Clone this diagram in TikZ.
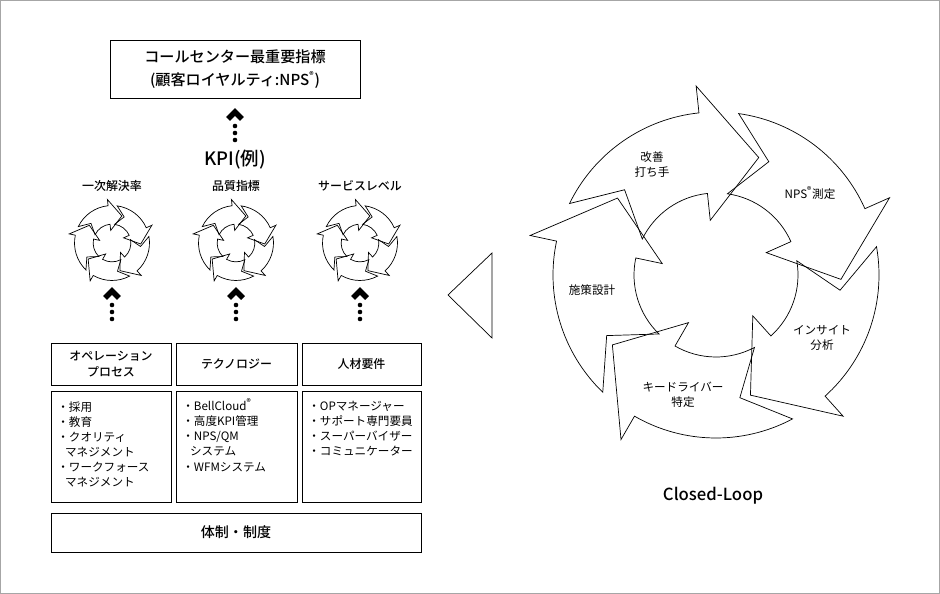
\documentclass[tikz,border=0pt]{standalone}
\usepackage{fontspec}
\newfontfamily\jp{Noto Sans CJK JP}
\newfontfamily\jpb{Noto Sans CJK JP Medium}
\usetikzlibrary{positioning}

% ring of five curved arrows, clockwise
\newcommand{\loopring}[3]{%
	\begin{scope}[shift={(#1,#2)},scale=#3,yscale=-1]
		\foreach \k in {0,...,4}
			\draw[thin,rotate=-72*\k] (154:163) arc[start angle=154,end angle=96,radius=163] -- (96:190) -- (70:125)
				-- (96:55) -- (96:82) arc[start angle=96,end angle=154,radius=82] -- (137:125) -- cycle;
	\end{scope}}

\tikzset{
	upmark/.pic={
		\draw[line width=3.2pt,miter limit=10] (-7,7) -- (0,0) -- (7,7);
		\foreach \d in {14,21,28} \fill (0,\d) circle (2.3);
	},
}

\begin{document}
\begin{tikzpicture}[x=0.02cm,y=-0.02cm,font=\jp]
	\tikzstyle{box}=[draw,thin,inner sep=0pt,align=center]
	\tikzstyle{small}=[font=\jp\fontsize{6.6}{8.6}\selectfont]
	\tikzstyle{head}=[font=\jpb\fontsize{6.8}{9.5}\selectfont]
	\useasboundingbox (0,0) rectangle (940,594);
	\draw[gray!70] (0.5,0.5) rectangle (939.5,593.5);
	% top
	\node (top) [box,minimum width=250*0.02cm,minimum height=58*0.02cm,font=\jpb\fontsize{8.6}{13}\selectfont] at (235,69)
		{コールセンター最重要指標\\(顧客ロイヤルティ:NPS\textsuperscript{\tiny ®})};
	\pic at (235,112) {upmark};
	\node (kpi) [font=\jpb\fontsize{10.5}{12}\selectfont] at (235,160) {KPI(例)};
	\node (k1) [head] at (112,186) {一次解決率};
	\node (k2) [head] at (236,186) {品質指標};
	\node (k3) [head] at (360,186) {サービスレベル};
	\foreach \x in {112,236,360} {
		\loopring{\x}{243}{0.23}
		\pic at (\x,291) {upmark};
	}
	% columns
	\node (h1) [box,head,minimum width=120*0.02cm,minimum height=42*0.02cm] at (111,364) {オペレーション\\プロセス};
	\node (h2) [box,head,minimum width=121*0.02cm,minimum height=42*0.02cm] at (236.5,364) {テクノロジー};
	\node (h3) [box,head,minimum width=119*0.02cm,minimum height=42*0.02cm] at (361.5,364) {人材要件};
	\node (c1) [box,minimum width=120*0.02cm,minimum height=111*0.02cm] at (111,446.5) {};
	\node (c2) [box,minimum width=121*0.02cm,minimum height=111*0.02cm] at (236.5,446.5) {};
	\node (c3) [box,minimum width=119*0.02cm,minimum height=111*0.02cm] at (361.5,446.5) {};
	\node (t1) [small,align=left,anchor=north west,inner sep=0pt] at (57,401)
		{・採用\\・教育\\・クオリティ\\\ \ \ マネジメント\\・ワークフォース\\\ \ \ マネジメント};
	\node (t2) [small,align=left,anchor=north west,inner sep=0pt] at (182,398)
		{・BellCloud\textsuperscript{\tiny ®}\\・高度KPI管理\\・NPS/QM\\\ \ \ システム\\・WFMシステム};
	\node (t3) [small,align=left,anchor=north west,inner sep=0pt] at (308,401)
		{・OPマネージャー\\・サポート専門要員\\・スーパーバイザー\\・コミュニケーター};
	\node (base) [box,font=\jpb\fontsize{8}{10}\selectfont,minimum width=370*0.02cm,minimum height=39*0.02cm] at (236,532.5) {体制・制度};
	% triangle
	\draw[thin] (448,295) -- (492,253) -- (492,338) -- cycle;
	% big loop
	\loopring{716}{275}{1}
	\node (s1) [small,align=center] at (652,165) {改善\\打ち手};
	\node (s2) [small,align=center] at (810,193) {NPS\textsuperscript{\tiny ®}測定};
	\node (s3) [small,align=center] at (822,338) {インサイト\\分析};
	\node (s4) [small,align=center] at (683,395) {キードライバー\\特定};
	\node (s5) [small] at (592,290) {施策設計};
	\node (cl) [font=\jpb\fontsize{9.5}{11}\selectfont] at (713,496) {Closed-Loop};
\end{tikzpicture}
\end{document}
